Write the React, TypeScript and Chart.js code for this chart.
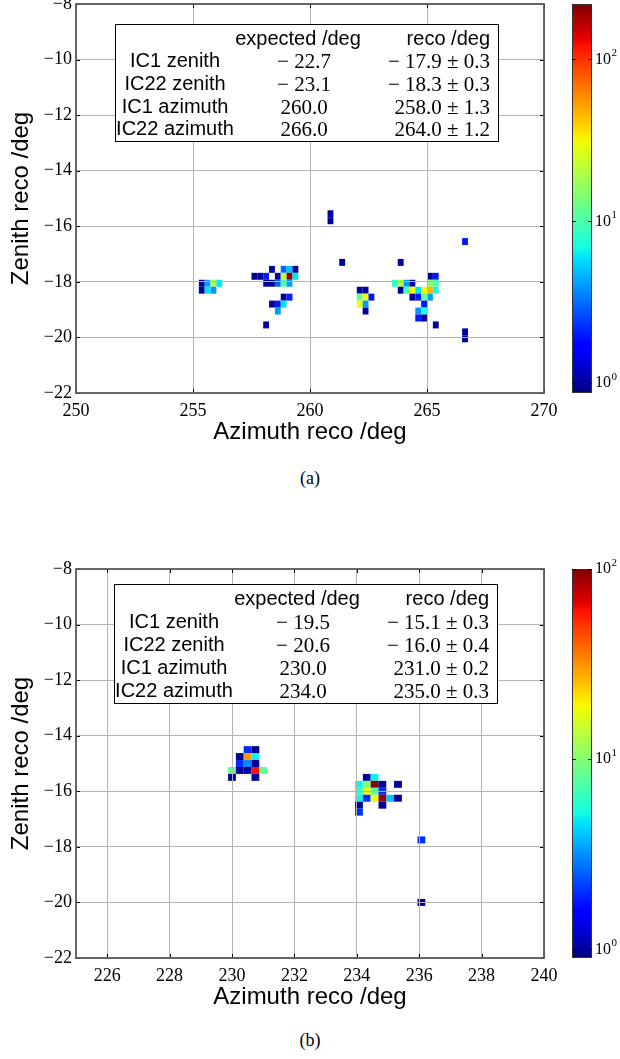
import React, { useEffect, useRef } from "react";
import { Chart, registerables } from "chart.js";

Chart.register(...registerables);

// ---------------- panel (a) ----------------
const A_AZIMUTH = [
  255.375, 255.375, 255.625, 255.625, 255.875, 255.875, 256.125,
  258.375, 258.875, 259.125, 259.375,
  257.625, 257.875, 258.125, 258.625, 258.875, 259.125, 259.375,
  258.125, 258.375, 258.625, 258.875, 259.125,
  258.875, 259.125,
  258.375, 258.625, 258.875,
  258.625,
  258.125,
  260.875, 260.875, 261.375,
  262.125, 262.375,
  262.125, 262.375, 262.625,
  262.125, 262.375,
  262.375,
  263.875,
  265.125, 265.375,
  263.625, 263.875, 264.125, 264.375, 265.125, 265.375,
  263.875, 264.125, 264.375, 264.625, 264.875, 265.125, 265.375,
  264.375, 264.625, 264.875, 265.125,
  264.875,
  264.625, 264.875,
  264.625, 264.875,
  265.375,
  266.625, 266.625, 266.625,
];
const A_ZENITH = [
  -18.05, -18.3, -18.05, -18.3, -18.05, -18.3, -18.05,
  -17.55, -17.55, -17.55, -17.55,
  -17.8, -17.8, -17.8, -17.8, -17.8, -17.8, -17.8,
  -18.05, -18.05, -18.05, -18.05, -18.05,
  -18.55, -18.55,
  -18.8, -18.8, -18.8,
  -19.05,
  -19.55,
  -15.55, -15.8, -17.3,
  -18.3, -18.3,
  -18.55, -18.55, -18.55,
  -18.8, -18.8,
  -19.05,
  -17.3,
  -17.8, -17.8,
  -18.05, -18.05, -18.05, -18.05, -18.05, -18.05,
  -18.3, -18.3, -18.3, -18.3, -18.3, -18.3, -18.3,
  -18.55, -18.55, -18.55, -18.55,
  -18.8,
  -19.05, -19.05,
  -19.3, -19.3,
  -19.55,
  -16.55, -19.8, -20.05,
];
const A_COUNTS = [
  1, 1, 4, 6, 20, 4, 6,
  1, 3, 5, 1,
  1, 1, 2, 1, 20, 200, 6,
  1, 1, 3, 10, 4,
  1, 2,
  1, 2, 6,
  4,
  1,
  1, 1, 1,
  1, 1,
  12, 30, 2,
  30, 4,
  1,
  1,
  1, 2,
  8, 20, 4, 1, 15, 10,
  1, 10, 30, 6, 30, 45, 7,
  1, 2, 12, 4,
  2,
  4, 7,
  2, 1,
  1,
  2, 1, 1,
];
const A_X_TICKS = [250, 255, 260, 265, 270];
const A_X_RANGE = [250, 270];
const A_COLOR_RANGE = [0.87, 220];
const A_EXPECTED = ["− 22.7", "− 23.1", "260.0", "266.0"];
const A_RECO = ["− 17.9 ± 0.3", "− 18.3 ± 0.3", "258.0 ± 1.3", "264.0 ± 1.2"];

// ---------------- panel (b) ----------------
const B_AZIMUTH = [
  230.5, 230.75,
  230.25, 230.5, 230.75,
  230.25, 230.5, 230.75,
  230.0, 230.25, 230.5, 230.75, 231.0,
  230.0, 230.75,
  234.32, 234.57,
  234.07, 234.32, 234.57, 234.82, 235.32,
  234.07, 234.32, 234.57, 234.82,
  234.07, 234.32, 234.57, 234.82, 235.07, 235.32,
  234.07, 234.82,
  234.07,
  236.07, 236.07,
];
const B_ZENITH = [
  -14.5, -14.5,
  -14.75, -14.75, -14.75,
  -15.0, -15.0, -15.0,
  -15.25, -15.25, -15.25, -15.25, -15.25,
  -15.5, -15.5,
  -15.5, -15.5,
  -15.75, -15.75, -15.75, -15.75, -15.75,
  -16.0, -16.0, -16.0, -16.0,
  -16.25, -16.25, -16.25, -16.25, -16.25, -16.25,
  -16.5, -16.5,
  -16.75,
  -17.75, -20.0,
];
const B_COUNTS = [
  2, 1,
  1, 30, 5,
  2, 3, 1,
  8, 1, 1, 60, 8,
  1, 1,
  1, 5,
  5, 10, 95, 1, 1,
  6, 18, 8, 2,
  5, 2, 18, 90, 4, 1,
  1, 1,
  2,
  2, 1,
];
const B_X_TICKS = [226, 228, 230, 232, 234, 236, 238, 240];
const B_X_RANGE = [225, 240];
const B_COLOR_RANGE = [0.9, 100];
const B_EXPECTED = ["− 19.5", "− 20.6", "230.0", "234.0"];
const B_RECO = ["− 15.1 ± 0.3", "− 16.0 ± 0.4", "231.0 ± 0.2", "235.0 ± 0.3"];

// ---------------- shared ----------------
const ROW_LABELS = ["IC1 zenith", "IC22 zenith", "IC1 azimuth", "IC22 azimuth"];
const HEADERS = ["expected /deg", "reco /deg"];
const Y_TICKS = [-22, -20, -18, -16, -14, -12, -10, -8];
const Y_RANGE = [-22, -8];
const CB_TICKS = [1, 10, 100];
const BIN = 0.25;

const SERIF = "'Liberation Serif', 'DejaVu Serif', serif";
const SANS = "'Liberation Sans', 'DejaVu Sans', sans-serif";

// matplotlib "jet" colormap segments
const JET_R = [[0, 0], [0.35, 0], [0.66, 1], [0.89, 1], [1, 0.5]];
const JET_G = [[0, 0], [0.125, 0], [0.375, 1], [0.64, 1], [0.91, 0], [1, 0]];
const JET_B = [[0, 0.5], [0.11, 1], [0.34, 1], [0.65, 0], [1, 0]];

function seg(pts: number[][], t: number) {
  if (t <= pts[0][0]) return pts[0][1];
  for (let i = 1; i < pts.length; i++) {
    if (t <= pts[i][0]) {
      const [x0, y0] = pts[i - 1];
      const [x1, y1] = pts[i];
      return y0 + ((t - x0) / (x1 - x0)) * (y1 - y0);
    }
  }
  return pts[pts.length - 1][1];
}
function jet(t: number) {
  const c = Math.max(0, Math.min(1, t));
  const r = Math.round(255 * seg(JET_R, c));
  const g = Math.round(255 * seg(JET_G, c));
  const b = Math.round(255 * seg(JET_B, c));
  return `rgb(${r},${g},${b})`;
}

const fmtNum = (v: number) => (v < 0 ? "\u2212" + Math.abs(v) : String(v));

const heatPlugin = {
  id: "heat",
  afterDatasetsDraw(chart: any, _args: any, o: any) {
    const { ctx, chartArea } = chart;
    const xs = chart.scales.x;
    const ys = chart.scales.y;
    const lo = Math.log10(o.vmin);
    const span = Math.log10(o.vmax) - lo;
    ctx.save();
    ctx.beginPath();
    ctx.rect(chartArea.left, chartArea.top, chartArea.width, chartArea.height);
    ctx.clip();
    for (const p of chart.data.datasets[0].data) {
      const x0 = xs.getPixelForValue(p.x - o.bin / 2);
      const x1 = xs.getPixelForValue(p.x + o.bin / 2);
      const y0 = ys.getPixelForValue(p.y + o.bin / 2);
      const y1 = ys.getPixelForValue(p.y - o.bin / 2);
      ctx.fillStyle = jet((Math.log10(p.v) - lo) / span);
      ctx.fillRect(x0, y0, x1 - x0, y1 - y0);
    }
    ctx.restore();
  },
  afterDraw(chart: any, _args: any, o: any) {
    const { ctx, chartArea } = chart;
    const xs = chart.scales.x;
    const ys = chart.scales.y;
    const cb = chart.scales.cb;
    const { left, right, top, bottom } = chartArea;
    ctx.save();
    // inward tick marks
    ctx.strokeStyle = "#000";
    ctx.lineWidth = 1;
    ctx.beginPath();
    for (const t of xs.ticks) {
      const px = Math.round(xs.getPixelForValue(t.value)) + 0.5;
      ctx.moveTo(px, bottom);
      ctx.lineTo(px, bottom - 4);
      ctx.moveTo(px, top);
      ctx.lineTo(px, top + 4);
    }
    for (const t of ys.ticks) {
      const py = Math.round(ys.getPixelForValue(t.value)) + 0.5;
      ctx.moveTo(left, py);
      ctx.lineTo(left + 4, py);
      ctx.moveTo(right, py);
      ctx.lineTo(right - 4, py);
    }
    ctx.stroke();
    // frame
    ctx.strokeStyle = "#5a5a5a";
    ctx.lineWidth = 1.8;
    ctx.strokeRect(left, top, right - left, bottom - top);

    // colorbar
    const cTop = cb.getPixelForValue(o.vmax);
    const cBot = cb.getPixelForValue(o.vmin);
    const grad = ctx.createLinearGradient(0, cBot, 0, cTop);
    for (let i = 0; i <= 64; i++) grad.addColorStop(i / 64, jet(i / 64));
    ctx.fillStyle = grad;
    ctx.fillRect(o.cbLeft, cTop, o.cbWidth, cBot - cTop);
    ctx.strokeStyle = "#333";
    ctx.lineWidth = 1;
    ctx.strokeRect(o.cbLeft + 0.5, cTop + 0.5, o.cbWidth - 1, cBot - cTop - 1);
    ctx.beginPath();
    ctx.strokeStyle = "#000";
    for (const v of CB_TICKS) {
      const py = Math.round(cb.getPixelForValue(v)) + 0.5;
      ctx.moveTo(o.cbLeft, py);
      ctx.lineTo(o.cbLeft + 4, py);
      ctx.moveTo(o.cbLeft + o.cbWidth, py);
      ctx.lineTo(o.cbLeft + o.cbWidth - 4, py);
    }
    ctx.stroke();
    ctx.fillStyle = "#000";
    ctx.textBaseline = "middle";
    ctx.textAlign = "left";
    for (const v of CB_TICKS) {
      const py = cb.getPixelForValue(v);
      const lx = o.cbLeft + o.cbWidth + 3;
      ctx.font = `16px ${SERIF}`;
      ctx.fillText("10", lx, py);
      const w = ctx.measureText("10").width;
      ctx.font = `11px ${SERIF}`;
      ctx.fillText(String(Math.round(Math.log10(v))), lx + w + 0.5, py - 6);
    }
    ctx.restore();
  },
};

type PanelProps = {
  az: number[];
  zen: number[];
  counts: number[];
  xTicks: number[];
  xRange: number[];
  colorRange: number[];
  top: number;
};

function HeatPanel({ az, zen, counts, xTicks, xRange, colorRange, top }: PanelProps) {
  const ref = useRef<HTMLCanvasElement | null>(null);
  useEffect(() => {
    if (!ref.current) return;
    const points = az.map((x, i) => ({ x, y: zen[i], v: counts[i] }));
    const chart = new Chart(ref.current, {
      type: "scatter",
      data: { datasets: [{ data: points as any, pointRadius: 0, pointHoverRadius: 0 }] },
      options: {
        animation: false,
        responsive: false,
        events: [],
        layout: { padding: { top: 24, left: 0, right: 0, bottom: 0 } },
        plugins: {
          legend: { display: false },
          tooltip: { enabled: false },
          heat: { vmin: colorRange[0], vmax: colorRange[1], bin: BIN, cbLeft: 572, cbWidth: 20 },
        } as any,
        scales: {
          x: {
            type: "linear",
            position: "bottom",
            min: xRange[0],
            max: xRange[1],
            afterBuildTicks: (s: any) => {
              s.ticks = xTicks.map((v) => ({ value: v }));
            },
            afterFit: (s: any) => {
              s.height = 60;
            },
            grid: { color: "#b4b4b4", lineWidth: 1, drawTicks: false, z: 1 },
            border: { display: false },
            ticks: {
              padding: 7,
              color: "#000",
              maxRotation: 0,
              autoSkip: false,
              font: { family: SERIF, size: 18 },
              callback: (v: any) => fmtNum(Number(v)),
            },
            title: {
              display: true,
              text: "Azimuth reco /deg",
              color: "#000",
              font: { family: SANS, size: 24 },
              padding: { top: 0, bottom: 6 },
            },
          },
          y: {
            type: "linear",
            position: "left",
            min: Y_RANGE[0],
            max: Y_RANGE[1],
            afterBuildTicks: (s: any) => {
              s.ticks = Y_TICKS.map((v) => ({ value: v }));
            },
            afterFit: (s: any) => {
              s.width = 76;
            },
            grid: { color: "#b4b4b4", lineWidth: 1, drawTicks: false, z: 1 },
            border: { display: false },
            ticks: {
              padding: 4,
              color: "#000",
              autoSkip: false,
              font: { family: SERIF, size: 18 },
              callback: (v: any) => fmtNum(Number(v)),
            },
            title: {
              display: true,
              text: "Zenith reco /deg",
              color: "#000",
              font: { family: SANS, size: 24 },
              padding: { top: 7, bottom: 0 },
            },
          },
          cb: {
            type: "logarithmic",
            position: "right",
            min: colorRange[0],
            max: colorRange[1],
            afterBuildTicks: (s: any) => {
              s.ticks = CB_TICKS.map((v) => ({ value: v }));
            },
            afterFit: (s: any) => {
              s.width = 76;
            },
            grid: { display: false, drawTicks: false },
            border: { display: false },
            ticks: { display: false },
          },
        } as any,
      },
      plugins: [heatPlugin as any],
    });
    return () => chart.destroy();
  }, [az, zen, counts, xTicks, xRange, colorRange]);
  return (
    <canvas
      ref={ref}
      width={620}
      height={473}
      style={{ position: "absolute", left: 0, top, width: 620, height: 473 }}
    />
  );
}

function ResultTable({ left, top, height, expected, reco }: { left: number; top: number; height: number; expected: string[]; reco: string[] }) {
  const rowCenters = [15, 38, 61, 84, 107].map((c) => (c * height) / 120);
  const cell = (c: number): React.CSSProperties => ({
    position: "absolute",
    top: c - 13,
    height: 26,
    lineHeight: "26px",
    whiteSpace: "nowrap",
    color: "#000",
  });
  return (
    <div
      style={{
        position: "absolute",
        left,
        top,
        width: 384,
        height,
        boxSizing: "border-box",
        border: "1.5px solid #000",
        background: "#fff",
      }}
    >
      <div style={{ ...cell(rowCenters[0]), left: 112, width: 140, textAlign: "center", font: `20px ${SANS}` }}>{HEADERS[0]}</div>
      <div style={{ ...cell(rowCenters[0]), right: 8, textAlign: "right", font: `20px ${SANS}` }}>{HEADERS[1]}</div>
      {ROW_LABELS.map((lab, i) => (
        <React.Fragment key={lab}>
          <div style={{ ...cell(rowCenters[i + 1]), left: 0, width: 118, textAlign: "center", font: `20px ${SANS}` }}>{lab}</div>
          <div style={{ ...cell(rowCenters[i + 1]), left: 130, width: 116, textAlign: "center", font: `21px ${SERIF}` }}>{expected[i]}</div>
          <div style={{ ...cell(rowCenters[i + 1]), right: 8, textAlign: "right", font: `21px ${SERIF}` }}>{reco[i]}</div>
        </React.Fragment>
      ))}
    </div>
  );
}

export default function App() {
  return (
    <div style={{ position: "absolute", left: 0, top: 0, width: 620, height: 1059, overflow: "hidden", background: "#fff" }}>
      <HeatPanel az={A_AZIMUTH} zen={A_ZENITH} counts={A_COUNTS} xTicks={A_X_TICKS} xRange={A_X_RANGE} colorRange={A_COLOR_RANGE} top={-20} />
      <ResultTable left={115} top={24} height={118} expected={A_EXPECTED} reco={A_RECO} />
      <div style={{ position: "absolute", left: 0, top: 465, width: 620, textAlign: "center", font: `18px ${SERIF}`, lineHeight: "26px" }}>(a)</div>

      <HeatPanel az={B_AZIMUTH} zen={B_ZENITH} counts={B_COUNTS} xTicks={B_X_TICKS} xRange={B_X_RANGE} colorRange={B_COLOR_RANGE} top={545} />
      <ResultTable left={114} top={584} height={120} expected={B_EXPECTED} reco={B_RECO} />
      <div style={{ position: "absolute", left: 0, top: 1027, width: 620, textAlign: "center", font: `18px ${SERIF}`, lineHeight: "26px" }}>(b)</div>
    </div>
  );
}
